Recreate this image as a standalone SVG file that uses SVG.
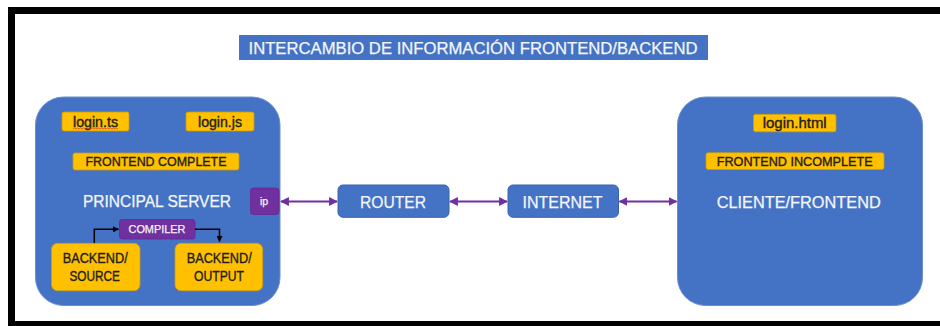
<svg xmlns="http://www.w3.org/2000/svg" width="940" height="326" viewBox="0 0 940 326">
<defs>
<style>
.big{fill:#4472C4;stroke:#6C8ED0;stroke-width:1}
.blue{fill:#4472C4;stroke:#3A62AC;stroke-width:1}
.yel{fill:#FFC000;stroke:#C99A10;stroke-width:0.8}
.pur{fill:#7030A0;stroke:#63298F;stroke-width:0.8}
.wt{font-family:"Liberation Sans",Arial,sans-serif;fill:#F4F6FB;stroke:#F4F6FB;stroke-width:0.25;text-anchor:middle}
.bt{font-family:"Liberation Sans",Arial,sans-serif;fill:#1E1E1E;stroke:#1E1E1E;stroke-width:0.35;text-anchor:middle}
.pl{stroke:#7030A0;stroke-width:2.2;fill:none;marker-start:url(#ps);marker-end:url(#pe)}
.kl{stroke:#000000;stroke-width:1.5;fill:none;marker-end:url(#ke)}
</style>
<marker id="pe" viewBox="0 0 10 10" refX="9" refY="5" markerWidth="4" markerHeight="4" orient="auto" markerUnits="strokeWidth"><path d="M0,0 L10,5 L0,10 z" fill="#7030A0"/></marker>
<marker id="ps" viewBox="0 0 10 10" refX="1" refY="5" markerWidth="4" markerHeight="4" orient="auto" markerUnits="strokeWidth"><path d="M10,0 L0,5 L10,10 z" fill="#7030A0"/></marker>
<marker id="ke" viewBox="0 0 10 10" refX="9" refY="5" markerWidth="4" markerHeight="4" orient="auto" markerUnits="strokeWidth"><path d="M0,0 L10,5 L0,10 z" fill="#000000"/></marker>
</defs>
<rect x="0" y="0" width="940" height="326" fill="#FFFFFF"/>
<rect x="11.5" y="10.5" width="940" height="314" fill="none" stroke="#000000" stroke-width="7"/>

<g id="title">
<rect x="239" y="35" width="469" height="25" fill="#4472C4"/>
<text class="wt" x="473" y="53.5" font-size="16" textLength="449" lengthAdjust="spacingAndGlyphs">INTERCAMBIO DE INFORMACIÓN FRONTEND/BACKEND</text>
</g>

<g id="principal-server">
<rect class="big" x="35.5" y="97" width="244.5" height="208.5" rx="28" ry="28"/>
<text class="wt" x="157" y="207" font-size="16" textLength="148" lengthAdjust="spacingAndGlyphs">PRINCIPAL SERVER</text>
</g>

<g id="login-ts">
<rect class="yel" x="62" y="112" width="67" height="19" rx="2"/>
<text class="bt" x="95.5" y="126.5" font-size="14" textLength="45" lengthAdjust="spacingAndGlyphs">login.ts</text>
<path d="M73,129 l1.5,-1 1.5,1 1.5,-1 1.5,1 1.5,-1 1.5,1 1.5,-1 1.5,1 1.5,-1 1.5,1 1.5,-1 1.5,1 1.5,-1 1.5,1 1.5,-1 1.5,1 1.5,-1 1.5,1 1.5,-1 1.5,1 1.5,-1 1.5,1 1.5,-1 1.5,1 1.5,-1 1.5,1 1.5,-1 1.5,1 1.5,-1 1.5,1" fill="none" stroke="#E03030" stroke-width="0.7"/>
</g>

<g id="login-js">
<rect class="yel" x="186" y="112" width="68" height="19" rx="2"/>
<text class="bt" x="220" y="126.5" font-size="14" textLength="44" lengthAdjust="spacingAndGlyphs">login.js</text>
</g>

<g id="frontend-complete">
<rect class="yel" x="73" y="153" width="166" height="17" rx="2"/>
<text class="bt" x="156" y="166" font-size="12.5" textLength="141" lengthAdjust="spacingAndGlyphs">FRONTEND COMPLETE</text>
</g>

<g id="ip">
<rect class="pur" x="250.5" y="188" width="28.5" height="26.5" rx="3"/>
<text class="wt" x="264" y="204.5" font-size="10.5">ip</text>
</g>

<g id="compiler">
<rect class="pur" x="119.5" y="219.5" width="75.5" height="19.5" rx="2.5"/>
<text class="wt" x="157" y="233.3" font-size="11.5" textLength="57" lengthAdjust="spacingAndGlyphs">COMPILER</text>
</g>

<g id="backend-source">
<rect class="yel" x="51.5" y="243.3" width="88.5" height="47.5" rx="6"/>
<text class="bt" x="95.2" y="263.3" font-size="14" textLength="65" lengthAdjust="spacingAndGlyphs">BACKEND/</text>
<text class="bt" x="94.7" y="281" font-size="14" textLength="50.5" lengthAdjust="spacingAndGlyphs">SOURCE</text>
</g>

<g id="backend-output">
<rect class="yel" x="175" y="243.3" width="87.7" height="47.5" rx="6"/>
<text class="bt" x="219.2" y="263.3" font-size="14" textLength="65" lengthAdjust="spacingAndGlyphs">BACKEND/</text>
<text class="bt" x="219" y="281" font-size="14" textLength="50" lengthAdjust="spacingAndGlyphs">OUTPUT</text>
</g>

<g id="router">
<rect class="blue" x="338" y="185" width="111" height="32.3" rx="5"/>
<text class="wt" x="393" y="207.5" font-size="16" textLength="66" lengthAdjust="spacingAndGlyphs">ROUTER</text>
</g>

<g id="internet">
<rect class="blue" x="508" y="185" width="110.5" height="32.3" rx="5"/>
<text class="wt" x="562.5" y="207.5" font-size="16" textLength="80" lengthAdjust="spacingAndGlyphs">INTERNET</text>
</g>

<g id="cliente-frontend">
<rect class="big" x="677.5" y="97" width="245" height="208.5" rx="28" ry="28"/>
<text class="wt" x="798.7" y="207.5" font-size="16" textLength="164" lengthAdjust="spacingAndGlyphs">CLIENTE/FRONTEND</text>
</g>

<g id="login-html">
<rect class="yel" x="753.5" y="114.3" width="82.5" height="17.5" rx="2"/>
<text class="bt" x="794.7" y="127.5" font-size="14" textLength="64" lengthAdjust="spacingAndGlyphs">login.html</text>
</g>

<g id="frontend-incomplete">
<rect class="yel" x="706" y="152.7" width="178" height="16.8" rx="2"/>
<text class="bt" x="794.7" y="165.5" font-size="12.5" textLength="156" lengthAdjust="spacingAndGlyphs">FRONTEND INCOMPLETE</text>
</g>

<g id="connectors">
<line class="pl" x1="281" y1="201.5" x2="337" y2="201.5"/>
<line class="pl" x1="450" y1="201.5" x2="507" y2="201.5"/>
<line class="pl" x1="619.5" y1="201.5" x2="676.5" y2="201.5"/>
<path class="kl" d="M94.3,243 V229.3 H118.5"/>
<path class="kl" d="M195,229.3 H219.5 V241.5"/>
</g>
</svg>
